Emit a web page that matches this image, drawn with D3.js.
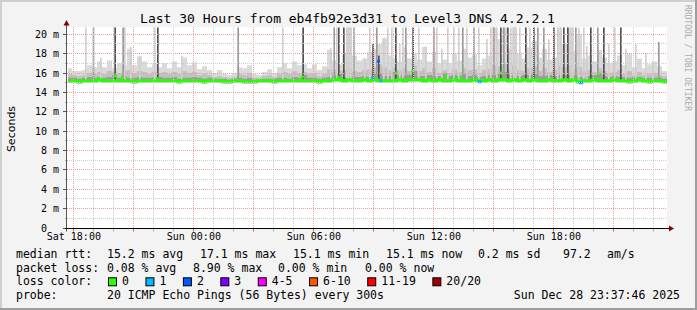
<!DOCTYPE html>
<html>
<head>
<meta charset="utf-8">
<script src="https://cdn.jsdelivr.net/npm/d3@7"></script>
<style>
  body { margin: 0; background: #f3f3f3; }
  svg { display: block; }
  text { font-family: "DejaVu Sans Mono", monospace; }
</style>
</head>
<body>
<svg width="697" height="310"></svg>
<script>
(function (d3) {
  "use strict";

  const svg = d3.select("svg");
  const width = +svg.attr("width");
  const height = +svg.attr("height");

  // ---- data ----
  const title = "Last 30 Hours from eb4fb92e3d31 to Level3 DNS 4.2.2.1";
  const startTime = "2025-12-27 17:41";
  const endTime = "2025-12-28 23:41";
  const binMinutes = 15;

  // median rtt per 15 min bin (ms)
  const medianMs = [
    15.2, 15.2, 15.1, 15.2, 15.2, 15.2, 15.3, 15.2, 15.2, 15.2,
    15.2, 15.2, 15.2, 15.1, 15.2, 15.2, 15.2, 15.2, 15.2, 15.2,
    15.2, 15.2, 15.1, 15.2, 15.2, 15.2, 15.2, 15.1, 15.2, 15.2,
    15.2, 15.1, 15.1, 15.2, 15.2, 15.1, 15.1, 15.1, 15.2, 15.2,
    15.2, 15.1, 15.2, 15.2, 15.2, 15.2, 15.2, 15.2, 15.2, 15.2,
    15.1, 15.2, 15.2, 15.3, 15.3, 15.2, 15.3, 15.2, 15.2, 15.3,
    15.2, 15.3, 15.2, 15.2, 15.2, 15.2, 15.3, 15.2, 15.3, 15.3,
    15.3, 15.2, 15.3, 15.2, 15.3, 15.2, 15.2, 15.3, 15.2, 15.2,
    15.2, 15.3, 15.2, 15.2, 15.3, 15.2, 15.3, 15.3, 15.2, 15.3,
    15.2, 15.3, 15.2, 15.3, 15.2, 15.2, 15.3, 15.2, 15.2, 15.3,
    15.2, 15.3, 15.1, 15.2, 15.2, 15.3, 15.2, 15.2, 15.2, 15.3,
    15.2, 15.2, 15.1, 15.2, 15.3, 15.2, 15.1, 15.2, 15.2, 15.1
  ];

  // single 5 min steps where the median moved, with lost pings
  const bumpTimes = [
    "27 20:03", "27 20:25", "27 22:10", "28 05:25", "28 07:12", "28 08:55",
    "28 09:13", "28 09:20", "28 10:07", "28 10:55", "28 12:35", "28 13:20",
    "28 14:14", "28 14:19", "28 15:20", "28 19:18", "28 19:23", "28 20:14"
  ];
  const bumpMs = [
    15.7, 15.55, 15.4, 15.6, 15.55, 15.5,
    17.2, 15.2, 16.0, 16.2, 15.7, 15.6,
    15.1, 15.1, 16.0, 15.0, 15.0, 15.9
  ];
  const bumpLoss = [
    0, 0, 0, 0, 0, 1,
    2, 1, 0, 0, 0, 0,
    1, 1, 0, 1, 1, 0
  ];

  // smoke: dark band, mid band, lightest (max ping) per bin (ms)
  const smokeDarkMs = [
    15.5, 15.5, 15.4, 15.5, 15.6, 15.5, 15.6, 15.5, 15.6, 15.8,
    15.5, 15.7, 15.5, 15.5, 15.6, 15.5, 15.5, 15.6, 15.6, 15.5,
    15.5, 15.6, 15.4, 15.5, 15.5, 15.6, 15.5, 15.4, 15.5, 15.4,
    15.4, 15.4, 15.3, 15.4, 15.5, 15.4, 15.5, 15.3, 15.3, 15.4,
    15.4, 15.4, 15.5, 15.5, 15.4, 15.6, 15.5, 15.8, 15.5, 15.5,
    15.4, 15.5, 15.6, 15.8, 15.9, 15.6, 15.7, 15.6, 15.6, 15.7,
    15.6, 15.9, 16.0, 15.7, 15.7, 16.1, 15.8, 15.7, 15.8, 16.2,
    15.7, 15.7, 15.8, 15.7, 15.7, 16.0, 15.7, 15.8, 15.7, 15.9,
    15.7, 15.8, 15.6, 15.7, 15.8, 15.8, 15.9, 16.1, 15.8, 15.8,
    15.7, 15.8, 15.8, 15.9, 15.7, 15.7, 15.8, 15.7, 15.8, 15.8,
    15.8, 15.8, 15.6, 15.5, 15.7, 15.8, 16.0, 15.7, 15.6, 15.7,
    15.6, 15.6, 15.5, 15.6, 15.6, 15.5, 15.5, 15.5, 15.5, 15.4
  ];
  const smokeMidMs = [
    15.9, 15.8, 15.7, 15.8, 16.0, 15.9, 16.1, 15.9, 16.2, 16.1,
    16.0, 16.2, 16.3, 16.0, 16.2, 16.1, 15.9, 16.1, 16.0, 16.1,
    15.9, 16.1, 15.9, 16.2, 16.0, 16.1, 15.8, 15.9, 15.8, 15.6,
    15.7, 15.6, 15.5, 15.6, 15.9, 15.8, 16.0, 15.5, 15.5, 15.7,
    15.8, 15.6, 15.9, 16.1, 15.9, 16.2, 16.0, 16.1, 15.9, 16.0,
    15.7, 15.9, 16.4, 16.3, 16.2, 16.3, 16.6, 16.2, 16.1, 16.3,
    16.4, 16.6, 16.9, 16.6, 16.3, 16.6, 16.3, 16.5, 16.2, 16.8,
    16.2, 16.5, 16.1, 16.5, 16.0, 16.3, 16.0, 16.4, 16.1, 16.5,
    16.3, 16.4, 16.0, 16.3, 16.4, 16.8, 16.7, 16.9, 16.4, 16.8,
    16.3, 16.2, 16.5, 16.7, 16.2, 16.5, 16.1, 16.3, 16.8, 16.6,
    16.8, 16.4, 16.6, 16.2, 16.3, 16.1, 16.5, 16.2, 16.0, 16.1,
    16.3, 15.9, 16.2, 15.8, 16.1, 15.8, 15.9, 16.0, 15.8, 15.7
  ];
  const smokeTopMs = [
    16.5, 16.2, 16.2, 16.3, 16.8, 16.6, 17.2, 16.6, 17.3, 16.5,
    17.0, 16.8, 18.5, 16.8, 17.7, 17.2, 16.6, 17.0, 16.6, 17.0,
    16.5, 17.2, 16.6, 17.6, 16.8, 17.1, 16.4, 16.7, 16.3, 16.0,
    16.3, 15.9, 15.8, 16.0, 16.6, 16.5, 16.8, 15.9, 15.8, 16.1,
    16.4, 16.0, 16.6, 17.0, 16.5, 17.2, 16.8, 16.9, 16.5, 16.9,
    16.3, 16.7, 18.4, 17.3, 16.9, 18.0, 20.7, 17.8, 17.3, 17.5,
    18.2, 18.5, 19.0, 19.6, 17.8, 17.5, 17.2, 18.6, 17.5, 18.0,
    17.4, 18.7, 17.2, 18.2, 17.0, 17.4, 17.0, 18.0, 17.3, 18.5,
    17.6, 17.9, 16.8, 17.5, 17.8, 20.7, 19.5, 20.7, 18.5, 20.7,
    18.0, 17.5, 18.6, 19.3, 17.6, 18.5, 17.4, 17.6, 20.7, 19.0,
    20.7, 18.3, 20.0, 17.5, 17.8, 17.2, 18.4, 17.6, 17.0, 17.2,
    17.8, 16.8, 18.0, 16.6, 17.5, 16.5, 16.9, 17.2, 16.7, 16.2
  ];

  // single 5 min steps where some pings went far up
  const spikeTimes = [
    "27 18:35", "27 18:58", "27 20:03", "27 20:27", "27 20:32", "27 22:02",
    "27 22:11", "28 02:12", "28 04:26", "28 05:27", "28 07:00", "28 07:08",
    "28 07:14", "28 07:29", "28 07:38", "28 07:59", "28 08:47", "28 08:57",
    "28 09:08", "28 09:14", "28 09:41", "28 10:05", "28 10:26", "28 10:35",
    "28 10:57", "28 11:59", "28 12:08", "28 12:59", "28 13:26", "28 13:59",
    "28 14:59", "28 15:08", "28 15:20", "28 15:29", "28 15:41", "28 16:05",
    "28 16:35", "28 16:59", "28 17:11", "28 17:29", "28 17:59", "28 18:20",
    "28 18:29", "28 18:41", "28 19:05", "28 19:14", "28 19:50", "28 20:11",
    "28 20:29", "28 21:20", "28 23:14",
    "27 19:20", "27 20:50", "27 21:17", "27 23:23", "28 06:50",
    "28 07:44", "28 07:50", "28 08:32", "28 09:29", "28 09:53", "28 10:17",
    "28 11:14", "28 11:35", "28 12:23", "28 12:41", "28 13:14", "28 13:38",
    "28 14:14", "28 14:38", "28 14:50", "28 15:50", "28 15:59", "28 16:17",
    "28 16:47", "28 17:44", "28 18:11", "28 18:50", "28 18:56", "28 19:29",
    "28 19:38", "28 20:44", "28 21:02", "28 21:35", "28 22:05", "28 22:35",
    "28 22:56"
  ];
  const spikeTopMs = [
    20.7, 20.7, 20.7, 20.7, 20.7, 20.7,
    20.7, 20.7, 20.7, 20.7, 20.7, 20.7,
    20.7, 20.7, 20.7, 20.7, 20.7, 19.0,
    20.7, 17.8, 20.7, 20.7, 20.7, 20.7,
    20.7, 20.7, 20.7, 20.7, 20.7, 20.7,
    20.7, 20.7, 20.7, 20.7, 20.7, 20.7,
    20.7, 20.7, 20.7, 20.7, 20.7, 20.7,
    20.7, 20.7, 20.7, 20.7, 20.7, 20.7,
    20.7, 20.7, 19.2,
    17.6, 18.7, 17.8, 17.8, 18.6,
    20.7, 20.7, 17.5, 19.6, 20.7, 19.0,
    20.7, 18.7, 18.5, 20.7, 20.7, 20.7,
    20.7, 19.5, 20.7, 20.7, 20.7, 20.7,
    20.7, 19.5, 20.7, 20.7, 20.7, 20.7,
    18.8, 19.0, 20.7, 18.5, 19.0, 18.0,
    17.2
  ];
  // 0 = few pings high (light), 1 = several, 2 = many (dark)
  const spikeShades = [
    0, 1, 2, 1, 0, 0,
    2, 1, 0, 2, 1, 0,
    2, 2, 0, 1, 0, 2,
    1, 2, 0, 2, 0, 1,
    2, 1, 0, 0, 1, 1,
    1, 0, 2, 1, 2, 0,
    2, 2, 1, 1, 2, 0,
    2, 2, 1, 0, 2, 1,
    2, 2, 1,
    0, 0, 0, 0, 0,
    0, 0, 0, 0, 0, 0,
    0, 0, 0, 0, 0, 0,
    0, 0, 0, 0, 0, 0,
    0, 0, 0, 0, 0, 0,
    0, 0, 0, 0, 0, 0,
    0
  ];

  const yTickValues = [0, 2, 4, 6, 8, 10, 12, 14, 16, 18, 20];

  const lossLabels = ["0", "1", "2", "3", "4-5", "6-10", "11-19", "20/20"];
  const lossColors = ["#26ff00", "#00b8ff", "#0059ff", "#7e00ff", "#ff00ff", "#ff5500", "#ff0000", "#a10000"];

  const rttStats = ["15.2 ms avg", "17.1 ms max", "15.1 ms min", "15.1 ms now", "0.2 ms sd", "97.2", "am/s"];
  const lossStats = ["0.08 % avg", "8.90 % max", "0.00 % min", "0.00 % now"];
  const probeText = "20 ICMP Echo Pings (56 Bytes) every 300s";
  const stampText = "Sun Dec 28 23:37:46 2025";

  const render = () => {
    const plot = { left: 67, right: 667, top: 27, bottom: 228 };
    const parse = d3.timeParse("%Y-%m-%d %H:%M");
    const dayParse = (s) => parse("2025-12-" + s);
    const t0 = parse(startTime);
    const t1 = parse(endTime);

    const xScale = d3.scaleTime().domain([t0, t1]).range([plot.left, plot.right]);
    const yScale = d3.scaleLinear().domain([0, 20.7]).range([plot.bottom, plot.top + 0.5]);
    const crisp = (v) => Math.floor(v) + 0.5;

    // background + frame
    svg.append("rect").attr("width", width).attr("height", height).attr("fill", "#f3f3f3");
    svg.append("path").attr("d", `M1,${height} V1 H${width}`).attr("fill", "none")
      .attr("stroke", "#cfcfcf").attr("stroke-width", 2);
    svg.append("path").attr("d", `M0,${height - 1} H${width - 1} V0`).attr("fill", "none")
      .attr("stroke", "#9e9e9e").attr("stroke-width", 2);

    svg.append("rect")
      .attr("x", plot.left).attr("y", plot.top)
      .attr("width", plot.right - plot.left).attr("height", plot.bottom - plot.top)
      .attr("fill", "#ffffff");

    svg.append("clipPath").attr("id", "plotClip")
      .append("rect")
      .attr("x", plot.left + 1).attr("y", plot.top)
      .attr("width", plot.right - plot.left - 1).attr("height", plot.bottom - plot.top);

    const g = svg.append("g").attr("clip-path", "url(#plotClip)");

    // bins
    const bins = medianMs.map((m, i) => ({
      t: d3.timeMinute.offset(t0, i * binMinutes),
      median: m,
      dark: smokeDarkMs[i],
      mid: smokeMidMs[i],
      top: smokeTopMs[i],
    }));
    const last = bins[bins.length - 1];
    const binsEnd = bins.concat([{ ...last, t: d3.timeMinute.offset(t0, bins.length * binMinutes) }]);
    const binOf = (t) => bins[Math.min(bins.length - 1, Math.floor((t - t0) / (binMinutes * 60000)))];

    const smokeArea = (key) =>
      d3.area()
        .curve(d3.curveStepAfter)
        .x((d) => xScale(d.t))
        .y0((d) => yScale(d.median - 0.15))
        .y1((d) => yScale(d[key]));

    g.append("path").datum(binsEnd).attr("d", smokeArea("top")).attr("fill", "#dadada");
    g.append("path").datum(binsEnd).attr("d", smokeArea("mid")).attr("fill", "#c2c2c2");
    g.append("path").datum(binsEnd).attr("d", smokeArea("dark")).attr("fill", "#9c9c9c");

    // spikes (light ones first so darker ones stay on top)
    const spikeColors = ["#d0d0d0", "#9a9a9a", "#505050"];
    const spikes = spikeTimes
      .map((s, i) => {
        const t = dayParse(s);
        return { t, top: spikeTopMs[i], shade: spikeShades[i], base: binOf(t).median };
      })
      .sort((a, b) => a.shade - b.shade);
    g.selectAll("rect.spike")
      .data(spikes)
      .enter()
      .append("rect")
      .attr("class", "spike")
      .attr("x", (d) => xScale(d.t))
      .attr("width", (d) => Math.max(1.2, xScale(d3.timeMinute.offset(d.t, 5)) - xScale(d.t)))
      .attr("y", (d) => yScale(d.top))
      .attr("height", (d) => yScale(d.base) - yScale(d.top))
      .attr("fill", (d) => spikeColors[d.shade]);

    // grid on top of smoke
    const gridG = svg.append("g");
    const hours = xScale.ticks(d3.timeHour.every(1));
    gridG.selectAll("line.vgrid")
      .data(hours)
      .enter()
      .append("line")
      .attr("x1", (d) => crisp(xScale(d)))
      .attr("x2", (d) => crisp(xScale(d)))
      .attr("y1", plot.top)
      .attr("y2", plot.bottom)
      .attr("stroke", (d) => (d.getHours() % 3 === 0 ? "#e8a0a0" : "#cccccc"))
      .attr("stroke-dasharray", "1,1");

    const msLines = d3.range(1, 21);
    gridG.selectAll("line.hgrid")
      .data(msLines)
      .enter()
      .append("line")
      .attr("x1", plot.left)
      .attr("x2", plot.right)
      .attr("y1", (d) => crisp(yScale(d)))
      .attr("y2", (d) => crisp(yScale(d)))
      .attr("stroke", (d) => (d % 2 === 0 ? "#e8a0a0" : "#cccccc"))
      .attr("stroke-dasharray", "1,1");

    // median line coloured by loss
    const medianLine = d3.line()
      .curve(d3.curveStepAfter)
      .x((d) => xScale(d.t))
      .y((d) => yScale(d.median));
    g.append("path").datum(binsEnd)
      .attr("d", medianLine)
      .attr("fill", "none")
      .attr("stroke", lossColors[0])
      .attr("stroke-width", 3);

    const lossIndex = (n) => (n <= 3 ? n : n <= 5 ? 4 : n <= 10 ? 5 : n <= 19 ? 6 : 7);
    const bumps = bumpTimes.map((s, i) => ({ t: dayParse(s), v: bumpMs[i], loss: bumpLoss[i] }));
    g.selectAll("line.bump")
      .data(bumps)
      .enter()
      .append("line")
      .attr("class", "bump")
      .attr("x1", (d) => xScale(d.t) - 0.5)
      .attr("x2", (d) => xScale(d3.timeMinute.offset(d.t, 5)) + 0.5)
      .attr("y1", (d) => yScale(d.v))
      .attr("y2", (d) => yScale(d.v))
      .attr("stroke", (d) => lossColors[lossIndex(d.loss)])
      .attr("stroke-width", 3);

    // axes
    const axisY = crisp(plot.bottom);
    svg.selectAll("line.xtick")
      .data(hours)
      .enter()
      .append("line")
      .attr("x1", (d) => crisp(xScale(d)))
      .attr("x2", (d) => crisp(xScale(d)))
      .attr("y1", axisY)
      .attr("y2", axisY + 3)
      .attr("stroke", (d) => (d.getHours() % 3 === 0 ? "#d06060" : "#aaaaaa"));

    svg.selectAll("line.ytick")
      .data(d3.range(0, 21))
      .enter()
      .append("line")
      .attr("x1", (d) => (d % 2 === 0 ? plot.left - 4 : plot.left - 2))
      .attr("x2", plot.left)
      .attr("y1", (d) => crisp(yScale(d)))
      .attr("y2", (d) => crisp(yScale(d)))
      .attr("stroke", (d) => (d % 2 === 0 ? "#555555" : "#aaaaaa"));

    svg.append("line")
      .attr("x1", plot.left - 0.5).attr("x2", plot.left - 0.5)
      .attr("y1", axisY + 3).attr("y2", plot.top - 4)
      .attr("stroke", "#555555");
    svg.append("line")
      .attr("x1", plot.left - 2).attr("x2", plot.right + 3)
      .attr("y1", axisY).attr("y2", axisY)
      .attr("stroke", "#000000");

    svg.append("path")
      .attr("d", `M${plot.left - 0.5},${plot.top - 7} L${plot.left - 3.5},${plot.top - 1.5} L${plot.left + 2.5},${plot.top - 1.5} Z`)
      .attr("fill", "#8b0000");
    svg.append("path")
      .attr("d", `M${plot.right + 7},${axisY} L${plot.right + 2},${axisY - 3} L${plot.right + 2},${axisY + 3} Z`)
      .attr("fill", "#8b0000");

    // tick labels
    svg.selectAll("text.ylabel")
      .data(yTickValues)
      .enter()
      .append("text")
      .attr("x", (d) => (d === 0 ? 47 : 59))
      .attr("y", (d) => crisp(yScale(d)) + 3.5)
      .attr("text-anchor", "end")
      .attr("font-size", 10)
      .attr("fill", "#000")
      .text((d) => (d === 0 ? "0" : `${d} m`));

    const fmt = d3.timeFormat("%a %H:%M");
    svg.selectAll("text.xlabel")
      .data(xScale.ticks(d3.timeHour.every(6)))
      .enter()
      .append("text")
      .attr("x", (d) => xScale(d) + 0.5)
      .attr("y", 240)
      .attr("text-anchor", "middle")
      .attr("font-size", 10)
      .attr("fill", "#000")
      .text((d) => fmt(d));

    // titles
    svg.append("text")
      .attr("x", 347.5).attr("y", 23)
      .attr("text-anchor", "middle")
      .attr("font-size", 13)
      .attr("fill", "#000")
      .text(title);

    svg.append("text")
      .attr("transform", "translate(15,129) rotate(-90)")
      .attr("text-anchor", "middle")
      .style("font-family", "'DejaVu Sans', sans-serif")
      .attr("font-size", 11)
      .attr("fill", "#000")
      .text("Seconds");

    svg.append("text")
      .attr("transform", "translate(685,5) rotate(90)")
      .attr("font-size", 8)
      .attr("fill", "#aaaaaa")
      .text("RRDTOOL / TOBI OETIKER");

    // legend
    const legend = svg.append("g").attr("font-size", 11.5).attr("fill", "#000");
    const rows = [258, 271.7, 285.3, 299];
    const leftX = 16;
    const valueX = 107;

    legend.append("text").attr("x", leftX).attr("y", rows[0]).text("median rtt:");
    const rttCols = [107, 200, 293, 386, 478, 563, 607];
    rttStats.forEach((s, i) => legend.append("text").attr("x", rttCols[i]).attr("y", rows[0]).text(s));

    legend.append("text").attr("x", leftX).attr("y", rows[1]).text("packet loss:");
    const lossCols = [107, 193, 278, 365];
    lossStats.forEach((s, i) => legend.append("text").attr("x", lossCols[i]).attr("y", rows[1]).text(s));

    legend.append("text").attr("x", leftX).attr("y", rows[2]).text("loss color:");
    let bx = 108;
    lossLabels.forEach((lab, i) => {
      legend.append("rect")
        .attr("x", bx + 0.5).attr("y", rows[2] - 7.5)
        .attr("width", 8).attr("height", 8)
        .attr("fill", lossColors[i])
        .attr("stroke", "#000");
      const t = legend.append("text").attr("x", bx + 14).attr("y", rows[2]).text(lab);
      bx = bx + 14 + t.node().getComputedTextLength() + 16.5;
    });

    legend.append("text").attr("x", leftX).attr("y", rows[3]).text("probe:");
    legend.append("text").attr("x", valueX).attr("y", rows[3]).text(probeText);
    legend.append("text").attr("x", 680).attr("y", rows[3]).attr("text-anchor", "end").text(stampText);
  };

  render();
})(d3);
</script>
</body>
</html>
